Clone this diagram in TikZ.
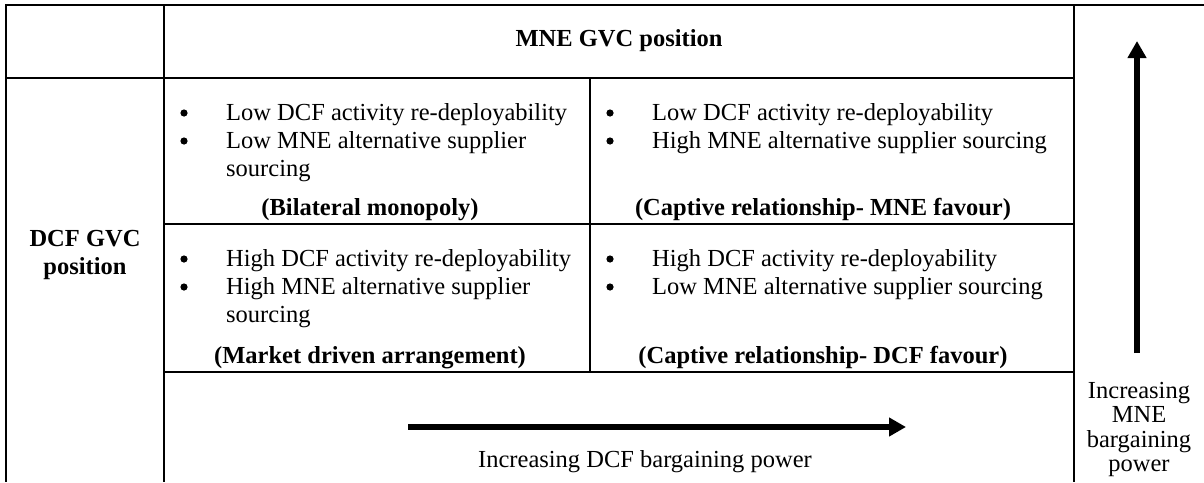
\documentclass[tikz,border=0pt]{standalone}
\usepackage{fontspec}
\setmainfont{Liberation Serif}
\usetikzlibrary{arrows.meta}

\tikzset{
  rule/.style={line width=2.4pt},
  celltext/.style={inner sep=0pt, font=\fontsize{24.5}{28}\selectfont},
  boldtext/.style={celltext, font=\fontsize{24.5}{28}\selectfont\bfseries},
  itemtext/.style={celltext, anchor=base west},
  powerarrow/.style={line width=6pt, -{Triangle[length=17pt,width=18pt]}},
}

\begin{document}
\begin{tikzpicture}[x=1pt, y=-1pt]
    \useasboundingbox (0,0) rectangle (1204,482);

    % table rules
    \draw[rule] (1204,5) -- (6,5) -- (6,482);
    \draw[rule] (164,5) -- (164,482);
    \draw[rule] (1074,5) -- (1074,482);
    \draw[rule] (6,78) -- (1074,78);
    \draw[rule] (164,224) -- (1074,224);
    \draw[rule] (164,372) -- (1074,372);
    \draw[rule] (590,78) -- (590,372);

    % headings
    \node[boldtext] (mnehead) at (619,41) {MNE GVC position};
    \node[boldtext, align=center] (dcfhead) at (85,255) {DCF GVC\\position};

    % list bullets of the four quadrants
    \foreach \bx in {184,610}
        \foreach \by in {113,141,259,287}
            \fill (\bx,\by) circle (3.6pt);

    % upper left
    \node[itemtext] (ula) at (226,120) {Low DCF activity re-deployability};
    \node[itemtext] (ulb) at (226,148) {Low MNE alternative supplier};
    \node[itemtext] (ulc) at (226,176) {sourcing};
    \node[boldtext, anchor=base] (ulname) at (370,215) {(Bilateral monopoly)};

    % upper right
    \node[itemtext] (ura) at (652,120) {Low DCF activity re-deployability};
    \node[itemtext] (urb) at (652,148) {High MNE alternative supplier sourcing};
    \node[boldtext, anchor=base] (urname) at (823,215) {(Captive relationship- MNE favour)};

    % lower left
    \node[itemtext] (lla) at (226,266) {High DCF activity re-deployability};
    \node[itemtext] (llb) at (226,294) {High MNE alternative supplier};
    \node[itemtext] (llc) at (226,322) {sourcing};
    \node[boldtext, anchor=base] (llname) at (370,363) {(Market driven arrangement)};

    % lower right
    \node[itemtext] (lra) at (652,266) {High DCF activity re-deployability};
    \node[itemtext] (lrb) at (652,294) {Low MNE alternative supplier sourcing};
    \node[boldtext, anchor=base] (lrname) at (823,363) {(Captive relationship- DCF favour)};

    % bargaining power arrows
    \coordinate (dcfstart) at (408,427);
    \coordinate (dcfend) at (906,427);
    \draw[powerarrow] (dcfstart) -- (dcfend);
    \node[celltext] (dcflabel) at (645,462) {Increasing DCF bargaining power};

    \coordinate (mnestart) at (1137,353);
    \coordinate (mneend) at (1137,41);
    \draw[powerarrow] (mnestart) -- (mneend);
    \node[celltext, align=center, font=\fontsize{24.5}{24.5}\selectfont, anchor=north] (mnelabel) at (1139,382) {Increasing\\MNE\\bargaining\\power};
\end{tikzpicture}
\end{document}
